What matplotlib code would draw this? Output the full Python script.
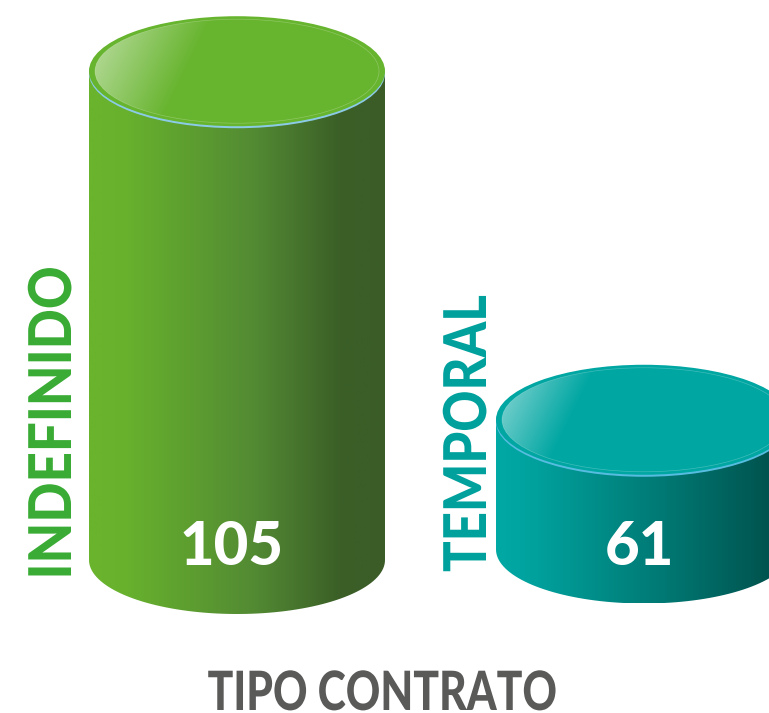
import numpy as np
import matplotlib
matplotlib.use("Agg")
import matplotlib.pyplot as plt
import matplotlib.patheffects as pe
from matplotlib.colors import LinearSegmentedColormap
from matplotlib.patches import Ellipse, PathPatch
from matplotlib.path import Path
from matplotlib.transforms import Affine2D

categories = ["INDEFINIDO", "TEMPORAL"]
values = [105, 61]
title = "TIPO CONTRATO"

# the drawn heights are not proportional, the scale starts near 45
SCALE_BASE = 45.1
PX_PER_UNIT = 8.16

CENTER_X = [237, 644]
BASE_Y = [560, 549.5]
RX = 148
RY_TOP = 55
RY_BOTTOM = 54

BODY_STOPS = [
    [(0.0, "#6ab42d"), (0.13, "#67b12d"), (0.55, "#538b33"), (0.85, "#3b5f27"), (1.0, "#3b5c27")],
    [(0.0, "#00a9a5"), (0.13, "#00a19d"), (0.55, "#007a75"), (0.92, "#00544f"), (1.0, "#00504b")],
]
TOP_COLORS = ["#67b42e", "#00a6a2"]
LABEL_COLORS = ["#3aac35", "#00a19d"]
RIM_COLORS = ["#8ccbe8", "#56bde0"]
HIGHLIGHT_END = [0.42, 0.34]

VALUE_X = [231.5, 639]
LABEL_X = [53.5, 468.5]
LABEL_BOTTOM = [579.5, 572]
LABEL_SQUEEZE = [0.895, 0.862]
TITLE_SQUEEZE = 0.787
FONT = "Lato"


class Squeeze(pe.AbstractPathEffect):
    # the original lettering is set tighter than Lato, narrow it along the baseline
    def __init__(self, sx=1.0, sy=1.0, anchor=(0, 0)):
        super().__init__()
        self.scale = Affine2D().translate(-anchor[0], -anchor[1]).scale(sx, sy).translate(*anchor)

    def draw_path(self, renderer, gc, tpath, affine, rgbFace=None):
        renderer.draw_path(gc, tpath, affine + self.scale, rgbFace)


def body_path(cx, top_y, base_y):
    t = np.linspace(0, np.pi, 80)
    xs = cx + RX * np.cos(t)
    ys = base_y + RY_BOTTOM * np.sin(t)
    verts = list(zip(xs, ys)) + [(cx - RX, top_y), (cx + RX, top_y), (cx + RX, base_y)]
    return Path(verts + [verts[0]], closed=True)


def draw_cylinder(ax, i, value):
    cx = CENTER_X[i]
    base_y = BASE_Y[i]
    top_y = base_y - (value - SCALE_BASE) * PX_PER_UNIT

    cmap = LinearSegmentedColormap.from_list("body", BODY_STOPS[i])
    grad = np.linspace(0, 1, 256).reshape(1, -1)
    im = ax.imshow(grad, cmap=cmap, aspect="auto", zorder=1,
                   extent=(cx - RX, cx + RX, base_y + RY_BOTTOM, top_y))
    clip = PathPatch(body_path(cx, top_y, base_y), transform=ax.transData,
                     facecolor="none", edgecolor="none")
    ax.add_patch(clip)
    im.set_clip_path(clip)

    # blue rim under the lid
    ax.add_patch(Ellipse((cx, top_y + 2), 2 * RX, 2 * RY_TOP, color=RIM_COLORS[i], lw=0, zorder=2))
    ax.add_patch(Ellipse((cx, top_y), 2 * RX, 2 * RY_TOP, color=TOP_COLORS[i], lw=0, zorder=3))

    inner = Ellipse((cx, top_y), 2 * (RX - 6), 2 * (RY_TOP - 3), facecolor="none",
                    edgecolor="white", lw=0.5, alpha=0.25, zorder=5)
    ax.add_patch(inner)

    # diagonal shine in the upper left of the lid
    yy, xx = np.mgrid[0:1:120j, 0:1:300j]
    d = xx + 0.18 * yy
    alpha = np.clip(1 - d / HIGHLIGHT_END[i], 0, 1) * 0.6
    shine = np.ones((120, 300, 4))
    shine[..., 3] = alpha
    im2 = ax.imshow(shine, aspect="auto", zorder=4, origin="upper",
                    extent=(cx - RX, cx + RX, top_y + RY_TOP, top_y - RY_TOP))
    clip2 = Ellipse((cx, top_y), 2 * (RX - 6), 2 * (RY_TOP - 3), transform=ax.transData,
                    facecolor="none", edgecolor="none")
    ax.add_patch(clip2)
    im2.set_clip_path(clip2)

    ax.text(VALUE_X[i], 565, str(value), color="white", fontsize=43, fontweight="black",
            family=FONT, ha="center", va="baseline", zorder=6)
    label = ax.text(LABEL_X[i], LABEL_BOTTOM[i], categories[i], color=LABEL_COLORS[i], fontsize=42.5,
                    fontweight="black", family=FONT, rotation=90, ha="center", va="bottom", zorder=6)
    anchor = ax.transData.transform((LABEL_X[i], LABEL_BOTTOM[i]))
    label.set_path_effects([Squeeze(sy=LABEL_SQUEEZE[i], anchor=anchor)])


def main():
    fig = plt.figure(figsize=(7.69, 7.13), dpi=100, facecolor="white")
    ax = fig.add_axes([0, 0, 1, 1])
    ax.set_xlim(0, 769)
    ax.set_ylim(713, 0)

    for i, value in enumerate(values):
        draw_cylinder(ax, i, value)

    ax.set_xlim(0, 769)
    ax.set_ylim(713, 0)
    ax.axis("off")

    head = ax.text(382, 710, title, color="#5a5a59", fontsize=39, fontweight="black",
                   family=FONT, ha="center", va="baseline")
    head.set_path_effects([Squeeze(sx=TITLE_SQUEEZE, anchor=ax.transData.transform((382, 710)))])

    fig.savefig("out.png", dpi=100)
    plt.close(fig)


if __name__ == "__main__":
    main()
